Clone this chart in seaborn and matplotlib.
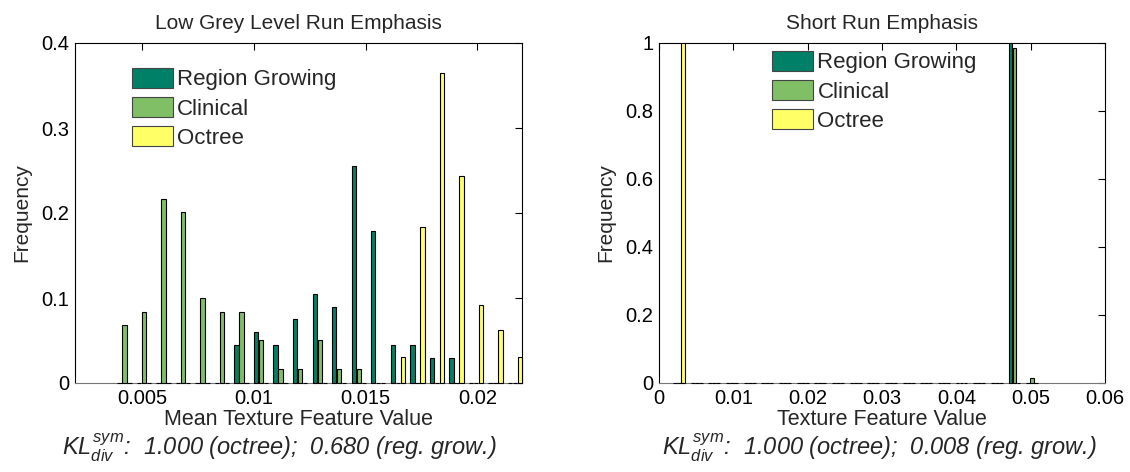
import matplotlib
matplotlib.use("Agg")
import matplotlib.pyplot as plt
import seaborn as sns
import pandas as pd

# ---------------- data ----------------
methods = ["Region Growing", "Clinical", "Octree"]
colors = ["#008066", "#80BF66", "#FFFF66"]

# Left panel: Low Grey Level Run Emphasis (bin centres and frequencies)
left_centers = [0.00421, 0.00508, 0.00596, 0.00683, 0.00771, 0.00858, 0.00945,
                0.01033, 0.01120, 0.01208, 0.01295, 0.01382, 0.01470, 0.01557,
                0.01645, 0.01732, 0.01819, 0.01907, 0.01994, 0.02082, 0.02169]
left_rg = [0, 0, 0, 0, 0, 0, 0.045, 0.060, 0.045, 0.075, 0.105, 0.090, 0.255,
           0.179, 0.045, 0.045, 0.030, 0.030, 0, 0, 0]
left_clin = [0.068, 0.083, 0.217, 0.201, 0.100, 0.083, 0.083, 0.051, 0.0165,
             0.0165, 0.051, 0.0165, 0.0165, 0, 0, 0, 0, 0, 0, 0, 0]
left_oct = [0, 0, 0, 0, 0, 0, 0, 0, 0, 0, 0, 0, 0, 0,
            0.031, 0.183, 0.365, 0.244, 0.092, 0.062, 0.031]

# Right panel: Short Run Emphasis
right_centers = [0.00270, 0.00508, 0.00745, 0.00983, 0.01220, 0.01458, 0.01695,
                 0.01933, 0.02170, 0.02408, 0.02645, 0.02883, 0.03120, 0.03358,
                 0.03595, 0.03833, 0.04070, 0.04308, 0.04545, 0.04783, 0.05020]
right_rg = [0] * 19 + [1.0, 0]
right_clin = [0] * 19 + [0.985, 0.015]
right_oct = [1.0] + [0] * 20

left_title = "Low Grey Level Run Emphasis"
right_title = "Short Run Emphasis"
left_xlabel = "Mean Texture Feature Value"
right_xlabel = "Texture Feature Value"
ylabel = "Frequency"
left_xticks = [0.005, 0.01, 0.015, 0.02]
left_xticklabels = ["0.005", "0.01", "0.015", "0.02"]
left_yticks = [0, 0.1, 0.2, 0.3, 0.4]
left_yticklabels = ["0", "0.1", "0.2", "0.3", "0.4"]
right_xticks = [0, 0.01, 0.02, 0.03, 0.04, 0.05, 0.06]
right_xticklabels = ["0", "0.01", "0.02", "0.03", "0.04", "0.05", "0.06"]
right_yticks = [0, 0.2, 0.4, 0.6, 0.8, 1.0]
right_yticklabels = ["0", "0.2", "0.4", "0.6", "0.8", "1"]
left_kl = "0.680"
right_kl = "0.008"
octree_kl = "1.000"

# ---------------- style ----------------
sns.set_theme(style="white")
plt.rcParams["font.family"] = ["Liberation Sans", "DejaVu Sans"]
plt.rcParams["mathtext.fontset"] = "custom"
plt.rcParams["mathtext.it"] = "Liberation Sans:italic"
plt.rcParams["mathtext.rm"] = "Liberation Sans"
plt.rcParams["axes.edgecolor"] = "black"
plt.rcParams["axes.linewidth"] = 0.8


def long_df(centers, rg, clin, octr):
    rows = []
    for name, vals in zip(methods, [rg, clin, octr]):
        for c, v in zip(centers, vals):
            rows.append({"center": c, "freq": v, "method": name})
    return pd.DataFrame(rows)


fig = plt.figure(figsize=(11.3, 4.72), dpi=100)
W, H = 1130, 472
ax1 = fig.add_axes([75 / W, 1 - 383 / H, 447 / W, 340 / H])
ax2 = fig.add_axes([659 / W, 1 - 383 / H, 446 / W, 340 / H])

panels = [
    (ax1, long_df(left_centers, left_rg, left_clin, left_oct), 0.77, 0.14,
     (0.002, 0.022), (0, 0.4), left_xticks, left_xticklabels, left_yticks,
     left_yticklabels, left_title, left_xlabel, (0.127, 0.927)),
    (ax2, long_df(right_centers, right_rg, right_clin, right_oct), 0.68, 0.05,
     (0, 0.06), (0, 1.0), right_xticks, right_xticklabels, right_yticks,
     right_yticklabels, right_title, right_xlabel, (0.253, 0.977)),
]

for (ax, df, width, gap, xlim, ylim, xt, xtl, yt, ytl, title, xlabel,
     legpos) in panels:
    sns.barplot(data=df, x="center", y="freq", hue="method", hue_order=methods,
                palette=colors, native_scale=True, width=width, gap=gap,
                errorbar=None, edgecolor="black", linewidth=0.8, ax=ax,
                saturation=1)
    for p in ax.patches:
        p.set_zorder(3)
        p.set_clip_on(False)
    ax.set_xlim(*xlim)
    ax.set_ylim(*ylim)
    ax.set_xticks(xt)
    ax.set_xticklabels(xtl)
    ax.set_yticks(yt)
    ax.set_yticklabels(ytl)
    ax.tick_params(direction="in", top=True, right=True, length=5, width=0.8,
                   labelsize=14.5, pad=4, colors="black")
    for sp in ax.spines.values():
        sp.set_visible(True)
        sp.set_color("black")
        sp.set_linewidth(0.8)
    ax.spines["bottom"].set_color("#777777")
    ax.set_title(title, fontsize=15, pad=10)
    ax.set_xlabel(xlabel, fontsize=15.5, labelpad=1)
    ax.set_ylabel(ylabel, fontsize=15, labelpad=7)
    handles, labels = ax.get_legend_handles_labels()
    leg = ax.legend(handles, labels, loc="upper left", bbox_to_anchor=legpos,
                    frameon=False, fontsize=16, handlelength=1.85,
                    handleheight=1.0, handletextpad=0.2, labelspacing=0.3,
                    borderpad=0, borderaxespad=0)
    for h in leg.legend_handles:
        h.set_edgecolor("#444444")

kl_head = r"$\mathit{KL}_{\mathit{div}}^{\mathit{sym}}$:  " + octree_kl + " (octree);  "
fig.text(280 / W, 1 - 448 / H, kl_head + left_kl + " (reg. grow.)",
         ha="center", va="center", fontsize=17, style="italic")
fig.text(880 / W, 1 - 448 / H, kl_head + right_kl + " (reg. grow.)",
         ha="center", va="center", fontsize=17, style="italic")

fig.savefig("out.png", dpi=100, facecolor="white")
